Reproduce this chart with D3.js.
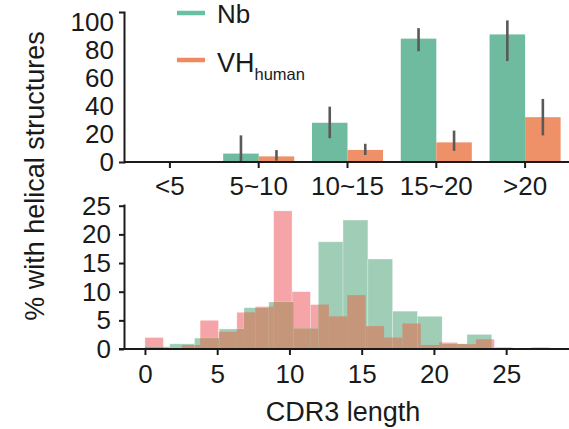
<!DOCTYPE html>
<html>
<head>
<meta charset="utf-8">
<script src="https://cdn.jsdelivr.net/npm/d3@7"></script>
<style>
  html, body { margin: 0; padding: 0; background: #fff; }
  svg text { font-family: "Liberation Sans", Arial, Helvetica, sans-serif; fill: #1a1a1a; }
</style>
</head>
<body>
<svg id="chart" width="569" height="429"></svg>
<script>
// ---------- Top panel data ----------
const topCategories = ["<5", "5~10", "10~15", "15~20", ">20"];
const nbValues   = [0, 6, 28, 88, 91];
const nbErrLow   = [0, 0, 17, 79, 72];
const nbErrHigh  = [0, 19, 39.5, 95.5, 101];
const vhValues   = [0, 4, 8.6, 14, 32];
const vhErrLow   = [0, 1, 5, 8, 19];
const vhErrHigh  = [0, 8.5, 13, 22.4, 45];
const topYTicks  = [0, 20, 40, 60, 80, 100];

// ---------- Bottom panel data (histograms) ----------
const vhEdges = [0, 1.27, 2.55, 3.82, 5.09, 6.36, 7.64, 8.91, 10.18, 11.45, 12.73, 14,
                 15.27, 16.55, 17.82, 19.09, 20.36, 21.64, 22.91, 24.18, 25.45, 26.73, 28];
const vhCounts = [2.0, 0, 0.7, 5.0, 3.0, 6.4, 7.4, 24.1, 10.0, 7.75, 5.7, 9.4,
                  4.0, 2.0, 4.45, 0.7, 1.15, 0.85, 1.7, 0.3, 0, 0.3];
const nbEdges  = [0, 1.71, 3.43, 5.14, 6.86, 8.57, 10.29, 12, 13.71, 15.43, 17.14, 18.86, 20.57, 22.29, 24];
const nbCounts = [0.4, 0.9, 1.9, 3.5, 7.2, 8.2, 3.6, 18.7, 22.5, 15.7, 6.6, 5.7, 0.9, 2.55];
const bottomXTicks = [0, 5, 10, 15, 20, 25];
const bottomYTicks = [0, 5, 10, 15, 20, 25];

const colNbBar = "#6fbba0", colVhBar = "#ee9169";
const colNbLine = "#66c2a5", colVhLine = "#f08a5d";
const colPink = "#f5a4a8", colGreen = "#9fcdb5", colBrown = "#c6967a";

const svg = d3.select("#chart");
const FS = 26;

// ================= TOP PANEL =================
const xTop = d3.scaleBand().domain(topCategories).range([125.5, 569.5]).paddingInner(0).paddingOuter(0);
const yTop = d3.scaleLinear().domain([0, 107]).range([162, 12]);
const barW = xTop.bandwidth() * 0.4;

const topG = svg.append("g");
const topRows = topCategories.map((c, i) => ({
  c, nb: nbValues[i], nbLo: nbErrLow[i], nbHi: nbErrHigh[i],
  vh: vhValues[i], vhLo: vhErrLow[i], vhHi: vhErrHigh[i]
}));

// bars
topG.selectAll("rect.nb").data(topRows).join("rect")
  .attr("x", d => xTop(d.c) + xTop.bandwidth() / 2 - barW)
  .attr("width", barW)
  .attr("y", d => yTop(d.nb))
  .attr("height", d => yTop(0) - yTop(d.nb))
  .attr("fill", colNbBar);
topG.selectAll("rect.vh").data(topRows).join("rect")
  .attr("x", d => xTop(d.c) + xTop.bandwidth() / 2)
  .attr("width", barW)
  .attr("y", d => yTop(d.vh))
  .attr("height", d => yTop(0) - yTop(d.vh))
  .attr("fill", colVhBar);

// error bars
const errRows = topRows.filter(d => d.nbHi > 0 || d.vhHi > 0);
topG.selectAll("line.enb").data(errRows).join("line")
  .attr("x1", d => xTop(d.c) + xTop.bandwidth() / 2 - barW / 2)
  .attr("x2", d => xTop(d.c) + xTop.bandwidth() / 2 - barW / 2)
  .attr("y1", d => yTop(d.nbLo)).attr("y2", d => yTop(d.nbHi))
  .attr("stroke", "#595959").attr("stroke-width", 2.6);
topG.selectAll("line.evh").data(errRows).join("line")
  .attr("x1", d => xTop(d.c) + xTop.bandwidth() / 2 + barW / 2)
  .attr("x2", d => xTop(d.c) + xTop.bandwidth() / 2 + barW / 2)
  .attr("y1", d => yTop(d.vhLo)).attr("y2", d => yTop(d.vhHi))
  .attr("stroke", "#595959").attr("stroke-width", 2.6);

// axes
const topYAxis = svg.append("g").attr("transform", "translate(124,0)")
  .call(d3.axisLeft(yTop).tickValues(topYTicks).tickSize(0).tickSizeOuter(5).tickPadding(10));
const topXAxis = svg.append("g").attr("transform", "translate(0,162)")
  .call(d3.axisBottom(xTop).tickSize(6).tickSizeOuter(0).tickPadding(9));
topXAxis.select(".domain").attr("d", "M124,0H569");

// legend
const legend = svg.append("g");
legend.append("line").attr("x1", 177).attr("x2", 205).attr("y1", 13).attr("y2", 13)
  .attr("stroke", colNbLine).attr("stroke-width", 4.5);
legend.append("text").attr("x", 217).attr("y", 22.5).attr("font-size", 26).text("Nb");
legend.append("line").attr("x1", 177).attr("x2", 205).attr("y1", 60).attr("y2", 60)
  .attr("stroke", colVhLine).attr("stroke-width", 4.5);
const vhText = legend.append("text").attr("x", 217).attr("y", 72).attr("font-size", 27);
vhText.append("tspan").text("VH");
vhText.append("tspan").attr("font-size", 16.5).attr("dy", 7.5).text("human");

// ================= BOTTOM PANEL =================
const xBot = d3.scaleLinear().domain([-1.45, 29.35]).range([124, 569]);
const yBot = d3.scaleLinear().domain([0, 25.3]).range([349, 204]);

const vhBins = vhCounts.map((v, i) => ({ x0: vhEdges[i], x1: vhEdges[i + 1], v }));
const nbBins = nbCounts.map((v, i) => ({ x0: nbEdges[i], x1: nbEdges[i + 1], v }));
const overlap = [];
vhBins.forEach(a => nbBins.forEach(b => {
  const x0 = Math.max(a.x0, b.x0), x1 = Math.min(a.x1, b.x1);
  if (x1 > x0) overlap.push({ x0, x1, v: Math.min(a.v, b.v) });
}));

const botG = svg.append("g");
function drawBins(data, fill, edge) {
  botG.append("g").selectAll("rect").data(data.filter(d => d.v > 0)).join("rect")
    .attr("x", d => xBot(d.x0))
    .attr("width", d => xBot(d.x1) - xBot(d.x0))
    .attr("y", d => yBot(d.v))
    .attr("height", d => yBot(0) - yBot(d.v))
    .attr("fill", fill)
    .attr("stroke", edge).attr("stroke-width", 0.8);
}
drawBins(vhBins, colPink, "rgba(255,255,255,0.35)");
drawBins(nbBins, colGreen, "rgba(255,255,255,0.35)");
drawBins(overlap, colBrown, "none");

const botYAxis = svg.append("g").attr("transform", "translate(124,0)")
  .call(d3.axisLeft(yBot).tickValues(bottomYTicks).tickSize(5).tickSizeOuter(0).tickPadding(8));
const botXAxis = svg.append("g").attr("transform", "translate(0,349)")
  .call(d3.axisBottom(xBot).tickValues(bottomXTicks).tickSize(6).tickSizeOuter(0).tickPadding(10));
botXAxis.select(".domain").attr("d", "M119,0H569");

// style axes
svg.selectAll(".domain").attr("stroke", "#1a1a1a").attr("stroke-width", 2);
svg.selectAll(".tick line").attr("stroke", "#1a1a1a").attr("stroke-width", 2);
svg.selectAll(".tick text").attr("font-size", FS).attr("font-family", null).style("fill", "#1a1a1a");

// axis titles
svg.append("text").attr("transform", "translate(44,176) rotate(-90)")
  .attr("text-anchor", "middle").attr("font-size", 27).text("% with helical structures");
svg.append("text").attr("x", 343).attr("y", 421).attr("text-anchor", "middle")
  .attr("font-size", 27).text("CDR3 length");
</script>
</body>
</html>
